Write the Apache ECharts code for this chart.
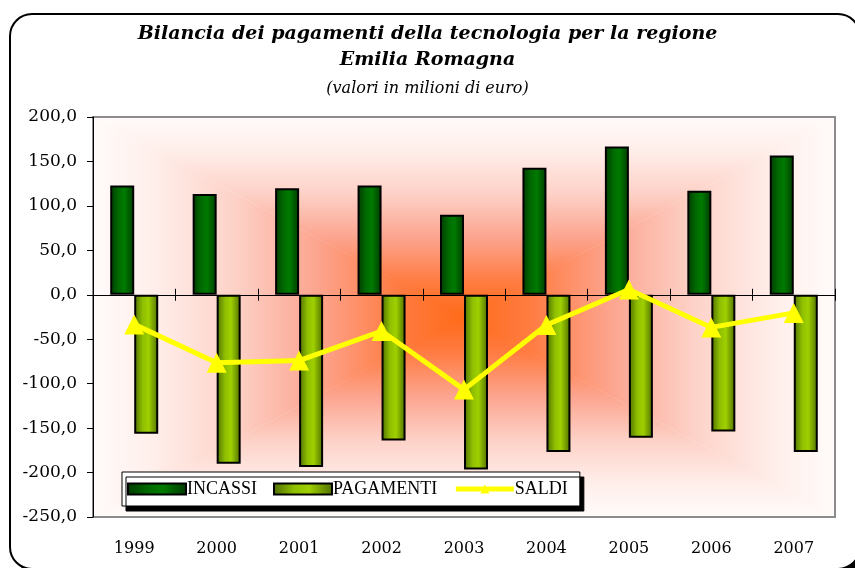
<!DOCTYPE html>
<html>
<head>
<meta charset="utf-8">
<script src="https://cdn.jsdelivr.net/npm/echarts@6/dist/echarts.min.js"></script>
<style>
  html, body { margin: 0; padding: 0; background: #fff; }
  #chart { width: 855px; height: 568px; }
</style>
</head>
<body>
<div id="chart"></div>
<script>
const anni = ['1999', '2000', '2001', '2002', '2003', '2004', '2005', '2006', '2007'];
const incassi = [123, 113.5, 119.8, 123, 90, 143, 166.7, 117, 156.6];
const pagamenti = [-156.3, -190, -193.8, -163.8, -196.7, -177, -160.8, -153.7, -177];
const saldi = [-33.3, -76.5, -74, -40.8, -106.7, -34, 5.9, -36.7, -20.4];

// area del grafico (px)
const G = { left: 93, top: 117, right: 20, bottom: 51 };
const W = 855, H = 568;
const L = G.left, T = G.top, R = W - G.right, B = H - G.bottom;
const cx = (L + R) / 2, cy = (T + B) / 2;

const stops = [
  { offset: 0, color: '#ff6a18' },
  { offset: 0.18, color: '#ff7c42' },
  { offset: 0.4, color: '#fca590' },
  { offset: 0.62, color: '#fdd2c8' },
  { offset: 0.84, color: '#ffefeb' },
  { offset: 1, color: '#fffbfa' }
];
// sfondo "dal centro" fatto con 4 triangoli
const tri = (pts, x, y, x2, y2) => ({
  type: 'polygon', z: -10, silent: true,
  shape: { points: pts },
  style: { fill: new echarts.graphic.LinearGradient(x, y, x2, y2, stops), stroke: null }
});

const verde = new echarts.graphic.LinearGradient(0, 0, 1, 0, [
  { offset: 0, color: '#003a00' }, { offset: 0.35, color: '#006a00' },
  { offset: 0.6, color: '#007a00' }, { offset: 1, color: '#003a00' }
]);
const giallo = new echarts.graphic.LinearGradient(0, 0, 1, 0, [
  { offset: 0, color: '#4f6e00' }, { offset: 0.35, color: '#8fbf00' },
  { offset: 0.6, color: '#9fd000' }, { offset: 1, color: '#4f6e00' }
]);

const fmt = v => v.toFixed(1).replace('.', ',');
const serif = 'DejaVu Serif';

const chart = echarts.init(document.getElementById('chart'));
chart.setOption({
  animation: false,
  backgroundColor: '#fff',
  title: {
    text: 'Bilancia dei pagamenti della tecnologia per la regione\nEmilia Romagna',
    subtext: '(valori in milioni di euro)',
    left: 'center', top: 16, itemGap: 8,
    textStyle: { fontFamily: serif, fontStyle: 'italic', fontWeight: 'bold', fontSize: 19, lineHeight: 26, color: '#000' },
    subtextStyle: { fontFamily: serif, fontStyle: 'italic', fontSize: 16, color: '#000' }
  },
  graphic: [
    {
      type: 'rect', z: -30, silent: true,
      shape: { x: 16, y: 20, width: 850, height: 555, r: 22 },
      style: { fill: '#000' }
    },
    {
      type: 'rect', z: -20, silent: true,
      shape: { x: 10, y: 14, width: 850, height: 555, r: 22 },
      style: { fill: '#fff', stroke: '#000', lineWidth: 2 }
    },
    {
      type: 'rect', z: -11, silent: true,
      shape: { x: L, y: T, width: R - L, height: B - T },
      style: { fill: new echarts.graphic.RadialGradient(0.5, 0.5, 0.6, stops) }
    },
    tri([[L, T], [R, T], [cx, cy]], 0, 1, 0, 0),
    tri([[L, B], [R, B], [cx, cy]], 0, 0, 0, 1),
    tri([[L, T], [L, B], [cx, cy]], 1, 0, 0, 0),
    tri([[R, T], [R, B], [cx, cy]], 0, 0, 1, 0)
  ],
  legend: {
    left: 122, top: 472,
    padding: [8, 12, 8, 5], itemGap: 16,
    itemWidth: 58, itemHeight: 11,
    backgroundColor: '#fff', borderColor: '#000', borderWidth: 1,
    shadowColor: '#000', shadowOffsetX: 4, shadowOffsetY: 5, shadowBlur: 0,
    textStyle: { fontFamily: 'Liberation Serif', fontSize: 18, color: '#000', padding: [0, 0, 0, -4] },
    data: [
      { name: 'INCASSI', icon: 'rect' },
      { name: 'PAGAMENTI', icon: 'rect' },
      { name: 'SALDI', lineStyle: { width: 5 } }
    ]
  },
  grid: {
    left: G.left, top: G.top, right: G.right, bottom: G.bottom,
    show: true, borderColor: '#8c8c8c', borderWidth: 2, backgroundColor: 'transparent'
  },
  xAxis: [
    {
      type: 'category', data: anni, position: 'bottom',
      axisLine: { show: false, onZero: false }, axisTick: { show: false },
      axisLabel: { margin: 24, fontFamily: serif, fontSize: 16, color: '#000' }
    },
    {
      type: 'category', data: anni, position: 'bottom',
      axisLine: { onZero: true, lineStyle: { color: '#000', width: 1 } },
      axisTick: { show: true, length: 6, inside: false, lineStyle: { color: '#000' } },
      axisLabel: { show: false }
    },
    {
      type: 'category', data: anni, position: 'bottom',
      axisLine: { onZero: true, lineStyle: { color: '#000', width: 1 } },
      axisTick: { show: true, length: 6, inside: true, lineStyle: { color: '#000' } },
      axisLabel: { show: false }
    }
  ],
  yAxis: [
    {
      type: 'value', min: -250, max: 200, interval: 50,
      axisLine: { show: true, lineStyle: { color: '#000', width: 1 } },
      axisTick: { show: true, length: 6, lineStyle: { color: '#000' } },
      splitLine: { show: false },
      axisLabel: { formatter: fmt, margin: 16, fontFamily: serif, fontSize: 17, color: '#000' }
    },
    { type: 'value', min: -250, max: 200, interval: 50, show: false }
  ],
  series: [
    {
      name: 'INCASSI', type: 'bar', data: incassi,
      barWidth: 24, barGap: '0%',
      itemStyle: { color: verde, borderColor: '#000', borderWidth: 2 }
    },
    {
      name: 'PAGAMENTI', type: 'bar', data: pagamenti,
      barWidth: 24, barGap: '0%',
      itemStyle: { color: giallo, borderColor: '#000', borderWidth: 2 }
    },
    {
      name: 'SALDI', type: 'line', data: saldi, z: 5,
      symbol: 'triangle', symbolSize: 20,
      lineStyle: { color: '#ffff00', width: 5 },
      itemStyle: { color: '#ffff00' }
    }
  ]
});
</script>
</body>
</html>
